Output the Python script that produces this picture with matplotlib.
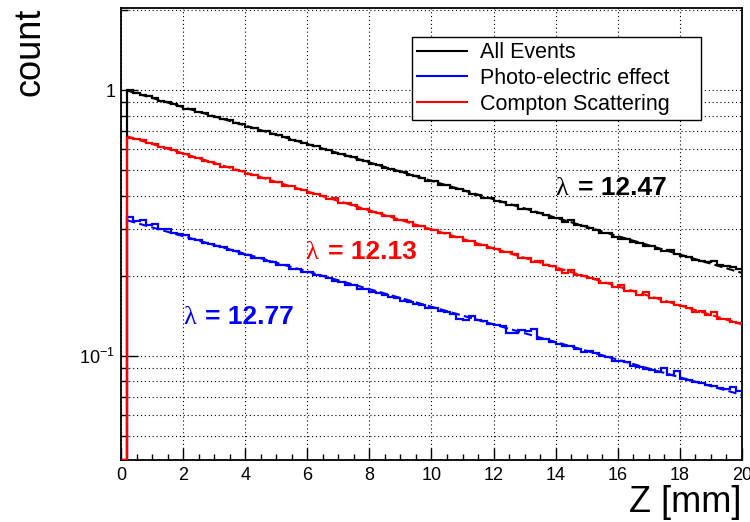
import numpy as np
import matplotlib
matplotlib.use('Agg')
import matplotlib.pyplot as plt
from matplotlib.ticker import LogLocator, NullFormatter, FixedLocator, FixedFormatter, MultipleLocator
from matplotlib.lines import Line2D

# bin edges: 100 bins of 0.2 mm from 0 to 20 mm, first bin is empty
edges = np.linspace(0.0, 20.0, 101)

# bin contents for bins 2..100 (z = 0.3 ... 19.9 mm)
all_events = [
    1.000, 0.978, 0.962, 0.949, 0.931, 0.912, 0.903, 0.884, 0.873, 0.852,
    0.846, 0.829, 0.820, 0.801, 0.795, 0.776, 0.770, 0.752, 0.745, 0.728,
    0.722, 0.704, 0.699, 0.683, 0.676, 0.669, 0.649, 0.644, 0.635, 0.619,
    0.615, 0.600, 0.595, 0.581, 0.576, 0.563, 0.558, 0.545, 0.541, 0.528,
    0.524, 0.510, 0.507, 0.495, 0.491, 0.478, 0.475, 0.468, 0.456, 0.453,
    0.441, 0.439, 0.428, 0.424, 0.418, 0.406, 0.404, 0.393, 0.392, 0.382,
    0.380, 0.369, 0.368, 0.358, 0.357, 0.347, 0.345, 0.340, 0.331, 0.329,
    0.320, 0.324, 0.310, 0.308, 0.302, 0.298, 0.290, 0.289, 0.281, 0.276,
    0.275, 0.268, 0.266, 0.258, 0.260, 0.253, 0.247, 0.250, 0.242, 0.237,
    0.236, 0.229, 0.228, 0.225, 0.227, 0.219, 0.218, 0.215, 0.213,
]
photo = [
    0.333, 0.322, 0.325, 0.310, 0.313, 0.300, 0.301, 0.291, 0.288, 0.284,
    0.274, 0.273, 0.266, 0.264, 0.258, 0.256, 0.250, 0.248, 0.242, 0.240,
    0.234, 0.233, 0.227, 0.226, 0.220, 0.219, 0.213, 0.213, 0.207, 0.206,
    0.201, 0.199, 0.196, 0.191, 0.190, 0.185, 0.184, 0.179, 0.179, 0.174,
    0.173, 0.170, 0.166, 0.165, 0.161, 0.160, 0.156, 0.155, 0.151, 0.151,
    0.147, 0.146, 0.143, 0.138, 0.136, 0.141, 0.136, 0.135, 0.132, 0.131,
    0.129, 0.122, 0.122, 0.125, 0.124, 0.126, 0.116, 0.116, 0.113, 0.111,
    0.109, 0.109, 0.106, 0.103, 0.104, 0.102, 0.100, 0.0985, 0.0955, 0.0955,
    0.0950, 0.0918, 0.0910, 0.0893, 0.0880, 0.0866, 0.0900, 0.0843, 0.0875, 0.0820,
    0.0810, 0.0798, 0.0790, 0.0778, 0.0770, 0.0758, 0.0752, 0.0763, 0.0738,
]
compton = [
    0.659, 0.655, 0.648, 0.632, 0.626, 0.610, 0.604, 0.595, 0.580, 0.575,
    0.561, 0.557, 0.541, 0.538, 0.529, 0.515, 0.512, 0.500, 0.496, 0.484,
    0.480, 0.468, 0.465, 0.452, 0.450, 0.437, 0.436, 0.424, 0.421, 0.410,
    0.408, 0.401, 0.389, 0.391, 0.377, 0.375, 0.369, 0.358, 0.357, 0.347,
    0.346, 0.336, 0.335, 0.325, 0.324, 0.319, 0.309, 0.308, 0.299, 0.298,
    0.290, 0.290, 0.280, 0.280, 0.271, 0.271, 0.262, 0.262, 0.254, 0.253,
    0.245, 0.245, 0.241, 0.233, 0.233, 0.226, 0.227, 0.219, 0.218, 0.211,
    0.205, 0.211, 0.201, 0.200, 0.197, 0.195, 0.188, 0.188, 0.181, 0.185,
    0.176, 0.176, 0.170, 0.174, 0.165, 0.165, 0.160, 0.160, 0.155, 0.154,
    0.151, 0.146, 0.147, 0.142, 0.146, 0.138, 0.137, 0.134, 0.133,
]

labels = ['All Events', 'Photo-electric effect', 'Compton Scattering']
colors = ['black', '#0000ff', '#ff0000']
lambda_texts = ['12.47', '12.77', '12.13']
lambda_pos = [(14.0, 0.402), (2.0, 0.132), (5.94, 0.232)]

ymin, ymax = 0.0405, 2.04

plt.rcParams['font.family'] = ['Liberation Sans', 'DejaVu Sans']

fig = plt.figure(figsize=(7.5, 5.22), dpi=100)
ax = fig.add_axes([0.1613, 0.1188, 0.828, 0.866])

centers = 0.5 * (edges[1:] + edges[:-1])
for vals, col, lam, pos in zip([all_events, photo, compton], colors, lambda_texts, lambda_pos):
    v = np.array([0.0] + vals)
    v_draw = np.where(v > 0, v, ymin)  # empty bin drawn on the frame
    ax.stairs(v_draw, edges, baseline=None, color=col, lw=1.6, zorder=3)
    # exponential fit
    b, a = np.polyfit(centers[1:], np.log(np.array(vals)), 1)
    zf = np.linspace(0.2, 20, 200)
    ax.plot(zf, np.exp(a + b * zf), color=col, lw=1.5, ls=(0, (4, 2)), zorder=3)
    # lambda label
    ax.text(pos[0], pos[1], '\u03bb', color=col, fontsize=19,
            family=['Liberation Serif', 'DejaVu Serif'], va='baseline', ha='left', zorder=5)
    ax.annotate('= ' + lam, xy=pos, xytext=(16, 0), textcoords='offset points',
                color=col, fontsize=19, fontweight='bold', va='baseline', ha='left', zorder=5)

ax.set_yscale('log')
ax.set_xlim(0, 20)
ax.set_ylim(ymin, ymax)

ax.xaxis.set_major_locator(MultipleLocator(2))
ax.xaxis.set_minor_locator(MultipleLocator(0.5))
ax.yaxis.set_major_locator(FixedLocator([0.1, 1.0]))
ax.yaxis.set_major_formatter(FixedFormatter([r'$\mathregular{10^{-1}}$', '1']))
ax.yaxis.set_minor_locator(LogLocator(base=10, subs=range(2, 10)))
ax.yaxis.set_minor_formatter(NullFormatter())

ax.tick_params(which='both', direction='in', top=False, right=False, labelsize=13, width=1.0)
ax.tick_params(axis='x', which='major', length=9, pad=5)
ax.tick_params(axis='x', which='minor', length=4.5)
ax.tick_params(axis='y', which='major', length=12, pad=4)
ax.tick_params(axis='y', which='minor', length=5)

gkw = dict(color='black', lw=0.8, ls=(0, (1, 2.5)))
ax.grid(True, which='major', axis='x', **gkw)
ax.grid(True, which='both', axis='y', **gkw)
ax.set_axisbelow(True)

for s in ax.spines.values():
    s.set_linewidth(1.3)

ax.set_xlabel('Z [mm]', loc='right', fontsize=26, labelpad=1)
ax.set_ylabel('count', loc='top', fontsize=26)
ax.yaxis.set_label_coords(-0.118, 1.0)

handles = [Line2D([], [], color=c, lw=1.5) for c in colors]
leg = ax.legend(handles, labels, loc='upper left', bbox_to_anchor=(0.4686, 0.936, 0.4654, 0.0),
                mode='expand', borderaxespad=0, fontsize=15.5, frameon=True, fancybox=False,
                edgecolor='black', framealpha=1, handlelength=2.3, handletextpad=0.6,
                labelspacing=0.22, borderpad=0.25)
leg.get_frame().set_linewidth(1.0)
leg.set_zorder(10)

fig.savefig('out.png', dpi=100)
